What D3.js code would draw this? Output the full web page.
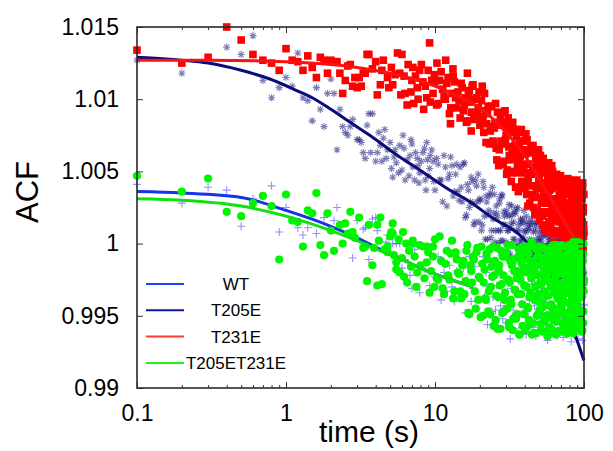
<!DOCTYPE html>
<html>
<head>
<meta charset="utf-8">
<script src="https://cdn.jsdelivr.net/npm/d3@7"></script>
<style>
  body { margin: 0; background: #fff; }
  svg { display: block; font-family: "Liberation Sans", Arial, Helvetica, sans-serif; }
</style>
</head>
<body>
<div id="chart"></div>
<script>
// axis ticks
const xMajor = [0.1, 1, 10, 100];
const xTickLabels = ['0.1', '1', '10', '100'];
const xMinor = [0.2, 0.3, 0.4, 0.5, 0.6, 0.7, 0.8, 0.9, 2, 3, 4, 5, 6, 7, 8, 9, 20, 30, 40, 50, 60, 70, 80, 90];
const yTicks = [0.99, 0.995, 1, 1.005, 1.01, 1.015];
const yTickLabels = ['0.99', '0.995', '1', '1.005', '1.01', '1.015'];
const legendNames = ['WT', 'T205E', 'T231E', 'T205ET231E'];

// sparse early points [time, ACF]
const wtEarly = [[0.1,1.0041],[0.2,1.0028],[0.3,1.0039],[0.4,1.0037],[0.5,1.0012],[0.6,1.0031],[0.8,1.0040],[0.9,1.0008],[1.0,1.0025],[1.2,1.0011],[1.3,1.0006],[1.4,1.0011],[1.6,1.0007],[1.8,1.0018],[2.1,1.0016],[2.2,1.0025],[2.8,0.9990],[3.0,1.0016],[3.3,1.0010],[3.4,1.0011],[3.6,0.9989],[3.8,1.0017],[4.0,1.0018],[4.1,1.0009],[4.7,1.0001],[4.8,1.0006],[5.2,1.0000],[5.5,1.0000],[5.8,1.0000],[6.0,0.9983],[6.3,0.9989],[6.8,0.9978],[7.0,0.9969],[7.3,0.9996],[7.9,0.9966],[8.6,0.9982],[9.2,0.9971]];

const t205eEarly = [[0.1,1.0127],[0.2,1.0118],[0.4,1.0136],[0.5,1.0131],[0.6,1.0144],[0.7,1.0113],[0.8,1.0101],[0.9,1.0108],[1.0,1.0115],[1.1,1.0109],[1.2,1.0132],[1.3,1.0101],[1.4,1.0099],[1.5,1.0085],[1.6,1.0108],[1.7,1.0093],[1.8,1.0081],[1.9,1.0104],[2.0,1.0114],[2.1,1.0104],[2.2,1.0065],[2.3,1.0093],[2.4,1.0081],[2.5,1.0077],[2.6,1.0075],[2.7,1.0081],[2.8,1.0086],[3.0,1.0072],[3.1,1.0072],[3.2,1.0070],[3.3,1.0063],[3.4,1.0059],[3.5,1.0082],[3.6,1.0090],[3.7,1.0063],[3.8,1.0090],[4.0,1.0057],[4.1,1.0063],[4.2,1.0077],[4.3,1.0068],[4.4,1.0057],[4.5,1.0073],[4.6,1.0079],[4.7,1.0059],[4.8,1.0065],[5.0,1.0070],[5.1,1.0052],[5.2,1.0046],[5.3,1.0060],[5.4,1.0065],[5.5,1.0056],[5.7,1.0049],[5.8,1.0068],[6.0,1.0051],[6.1,1.0075],[6.2,1.0066],[6.3,1.0044],[6.5,1.0058],[6.7,1.0047],[6.8,1.0061],[6.9,1.0072],[7.0,1.0069],[7.1,1.0053],[7.3,1.0044],[7.4,1.0063],[7.6,1.0059],[7.7,1.0054],[7.8,1.0042],[7.9,1.0049],[8.1,1.0057],[8.3,1.0063],[8.5,1.0066],[8.6,1.0044],[8.7,1.0037],[8.8,1.0070],[8.9,1.0058],[9.0,1.0047],[9.2,1.0052],[9.3,1.0061],[9.5,1.0065],[9.7,1.0057],[9.8,1.0043]];

const t231eEarly = [[0.1,1.0134],[0.2,1.0125],[0.3,1.0129],[0.4,1.0150],[0.5,1.0141],[0.6,1.0131],[0.7,1.0127],[0.8,1.0125],[0.9,1.0120],[1.0,1.0135],[1.1,1.0127],[1.2,1.0126],[1.3,1.0120],[1.4,1.0130],[1.5,1.0122],[1.6,1.0115],[1.7,1.0129],[1.8,1.0127],[1.9,1.0118],[2.0,1.0127],[2.1,1.0126],[2.2,1.0126],[2.3,1.0118],[2.4,1.0104],[2.5,1.0113],[2.6,1.0123],[2.7,1.0124],[2.8,1.0109],[2.9,1.0115],[3.0,1.0108],[3.1,1.0115],[3.2,1.0109],[3.3,1.0118],[3.4,1.0118],[3.5,1.0131],[3.6,1.0131],[3.8,1.0121],[4.0,1.0126],[4.1,1.0103],[4.3,1.0110],[4.4,1.0120],[4.5,1.0127],[4.8,1.0115],[4.9,1.0108],[5.1,1.0122],[5.2,1.0110],[5.4,1.0117],[5.6,1.0132],[5.8,1.0118],[5.9,1.0103],[6.0,1.0131],[6.2,1.0116],[6.3,1.0104],[6.5,1.0096],[6.6,1.0124],[6.9,1.0105],[7.0,1.0113],[7.1,1.0122],[7.2,1.0097],[7.4,1.0116],[7.6,1.0108],[7.7,1.0100],[7.9,1.0120],[8.1,1.0124],[8.3,1.0112],[8.4,1.0093],[8.6,1.0109],[8.8,1.0101],[9.0,1.0120],[9.2,1.0139],[9.3,1.0098],[9.5,1.0113],[9.7,1.0104],[9.9,1.0117],[10.3,1.0125],[11.8,1.0127],[12.7,1.0083],[13.2,1.0121],[16.5,1.0118],[17.5,1.0078]];

const bothEarly = [[0.1,1.0047],[0.2,1.0036],[0.3,1.0045],[0.4,1.0022],[0.5,1.0019],[0.6,1.0028],[0.7,1.0033],[0.8,1.0026],[0.9,0.9989],[1.0,1.0034],[1.1,1.0016],[1.2,1.0015],[1.3,0.9998],[1.4,1.0023],[1.5,1.0021],[1.6,1.0035],[1.7,0.9999],[1.8,0.9992],[1.9,1.0021],[2.0,1.0009],[2.1,0.9995],[2.3,1.0013],[2.4,1.0000],[2.5,1.0014],[2.6,1.0007],[2.7,1.0022],[2.8,1.0008],[2.9,1.0004],[3.1,1.0018],[3.3,0.9997],[3.4,0.9998],[3.5,0.9974],[3.6,1.0013],[3.8,0.9985],[3.9,0.9997],[4.1,1.0013],[4.1,0.9971],[4.2,1.0002],[4.3,1.0018],[4.4,0.9972],[4.6,0.9996],[4.8,0.9994],[4.8,0.9998],[5.0,1.0005],[5.1,1.0008],[5.2,1.0014],[5.2,1.0007],[5.3,0.9992],[5.5,0.9987],[5.5,0.9982],[5.7,1.0003],[5.8,0.9980],[6.0,0.9990],[6.1,1.0008],[6.2,0.9977],[6.4,1.0000],[6.5,0.9973],[6.7,0.9995],[6.9,0.9984],[7.1,1.0002],[7.1,1.0000],[7.3,0.9991],[7.5,0.9970],[7.6,0.9980],[7.9,0.9999],[8.0,0.9985],[8.3,0.9998],[8.5,0.9976],[8.8,0.9998],[8.8,0.9987],[9.0,0.9994],[9.2,0.9966],[9.4,0.9981],[9.7,0.9998],[9.7,0.9991],[9.9,0.9970]];

// dense part A: one value per time for each series
const denseTimes = [10,10.5,11,11.5,12,12.5,13,13.5,14,14.5,15,15.5,16,16.5,17,17.5,18,18.5,19,19.5,
  20,20.5,21,21.5,22,22.5,23,23.5,24,24.5,25,25.5,26,26.5,27,27.5,28,28.5,29,29.5,
  30,30.5,31,31.5,32,32.5,33,33.5,34,34.5,35,35.5,36,36.5,37,37.5,38,38.5,39,39.5,
  40,40.5,41,41.5,42,42.5,43,43.5,44,44.5,45,45.5,46,46.5,47,47.5,48,48.5,49,49.5,
  50,50.5,51,51.5,52,52.5,53,53.5,54,54.5,55,55.5,56,56.5,57,57.5,58,58.5,59,59.5,
  60,60.5,61,61.5,62,62.5,63,63.5,64,64.5,65,65.5,66,66.5,67,67.5,68,68.5,69,69.5,
  70,70.5,71,71.5,72,72.5,73,73.5,74,74.5,75,75.5,76,76.5,77,77.5,78,78.5,79,79.5,
  80,80.5,81,81.5,82,82.5,83,83.5,84,84.5,85,85.5,86,86.5,87,87.5,88,88.5,89,89.5,
  90,90.5,91,91.5,92,92.5,93,93.5,94,94.5,95,95.5,96,96.5,97,97.5,98,98.5,99,99.5,100];

const wtDense = [0.9977,0.9991,0.9961,0.9980,0.9967,0.9985,0.9970,0.9960,0.9981,0.9990,
  0.9964,0.9983,0.9952,0.9974,0.9991,0.9960,0.9969,0.9984,0.9955,0.9977,
  0.9976,0.9950,0.9991,0.9963,0.9980,0.9944,0.9970,0.9984,0.9953,0.9963,
  0.9987,0.9954,0.9971,0.9943,0.9982,0.9957,0.9992,0.9948,0.9976,0.9965,
  0.9945,0.9975,0.9960,0.9989,0.9934,0.9969,0.9981,0.9954,0.9986,0.9948,
  0.9966,0.9990,0.9939,0.9974,0.9951,0.9983,0.9958,0.9942,0.9978,0.9993,
  0.9954,0.9980,0.9937,0.9968,0.9992,0.9949,0.9961,0.9984,0.9943,0.9974,
  0.9972,0.9942,0.9990,0.9957,0.9978,0.9936,0.9966,0.9984,0.9948,0.9960,
  0.9987,0.9951,0.9969,0.9939,0.9981,0.9954,0.9992,0.9945,0.9975,0.9963,
  0.9944,0.9974,0.9959,0.9988,0.9933,0.9968,0.9980,0.9953,0.9985,0.9947,
  0.9965,0.9989,0.9938,0.9973,0.9950,0.9982,0.9957,0.9941,0.9977,0.9992,
  0.9953,0.9979,0.9936,0.9967,0.9991,0.9948,0.9960,0.9983,0.9942,0.9973,
  0.9971,0.9941,0.9989,0.9956,0.9977,0.9935,0.9965,0.9983,0.9947,0.9959,
  0.9985,0.9949,0.9967,0.9937,0.9979,0.9952,0.9990,0.9943,0.9973,0.9961,
  0.9943,0.9973,0.9958,0.9987,0.9932,0.9967,0.9979,0.9952,0.9984,0.9946,
  0.9964,0.9988,0.9937,0.9972,0.9949,0.9981,0.9956,0.9940,0.9976,0.9991,
  0.9951,0.9977,0.9934,0.9965,0.9989,0.9946,0.9958,0.9981,0.9940,0.9971,
  0.9969,0.9939,0.9987,0.9954,0.9975,0.9933,0.9963,0.9981,0.9945,0.9957,0.9958];

const t205eDense = [1.0037,1.0055,1.0044,1.0061,1.0026,1.0048,1.0054,1.0036,1.0055,1.0030,
  1.0039,1.0055,1.0018,1.0041,1.0025,1.0046,1.0028,1.0015,1.0040,1.0048,
  1.0031,1.0009,1.0043,1.0019,1.0033,1.0003,1.0023,1.0035,1.0009,1.0017,
  1.0034,1.0009,1.0021,1.0000,1.0028,1.0009,1.0034,1.0002,1.0022,1.0013,
  1.0001,1.0020,1.0009,1.0027,0.9992,1.0014,1.0020,1.0003,1.0022,0.9998,
  1.0009,1.0024,0.9991,1.0013,0.9998,1.0017,1.0002,0.9992,1.0014,1.0023,
  1.0009,0.9990,1.0019,0.9998,1.0012,0.9984,1.0003,1.0014,0.9990,0.9998,
  1.0014,0.9991,1.0002,0.9983,1.0009,0.9991,1.0015,0.9986,1.0004,0.9996,
  0.9985,1.0003,0.9993,1.0010,0.9978,0.9998,1.0005,0.9989,1.0007,0.9984,
  0.9995,1.0009,0.9979,0.9998,0.9985,1.0004,0.9989,0.9978,1.0000,1.0008,
  0.9995,0.9978,1.0005,0.9986,0.9998,0.9974,0.9991,1.0000,0.9979,0.9986,
  1.0002,0.9981,0.9991,0.9974,0.9998,0.9982,1.0003,0.9977,0.9994,0.9987,
  0.9977,0.9994,0.9985,1.0001,0.9970,0.9989,0.9996,0.9981,0.9999,0.9977,
  0.9986,0.9999,0.9970,0.9990,0.9977,0.9995,0.9981,0.9972,0.9993,1.0001,
  0.9988,0.9971,0.9998,0.9980,0.9992,0.9968,0.9985,0.9995,0.9974,0.9981,
  0.9996,0.9975,0.9985,0.9968,0.9992,0.9977,0.9998,0.9972,0.9989,0.9982,
  0.9971,0.9988,0.9979,0.9995,0.9965,0.9984,0.9991,0.9976,0.9994,0.9972,
  0.9982,0.9995,0.9966,0.9986,0.9973,0.9991,0.9977,0.9968,0.9989,0.9997,0.9979];

const t231eDense = [1.0112,1.0097,1.0119,1.0102,1.0111,1.0090,1.0104,1.0112,1.0094,1.0099,
  1.0111,1.0092,1.0101,1.0085,1.0106,1.0091,1.0110,1.0086,1.0101,1.0094,
  1.0082,1.0099,1.0088,1.0104,1.0070,1.0090,1.0095,1.0078,1.0095,1.0071,
  1.0080,1.0097,1.0058,1.0083,1.0065,1.0087,1.0069,1.0057,1.0082,1.0092,
  1.0075,1.0051,1.0087,1.0061,1.0077,1.0043,1.0065,1.0079,1.0050,1.0059,
  1.0079,1.0049,1.0063,1.0039,1.0071,1.0050,1.0079,1.0041,1.0065,1.0054,
  1.0038,1.0062,1.0049,1.0072,1.0026,1.0055,1.0064,1.0040,1.0067,1.0034,
  1.0049,1.0068,1.0025,1.0053,1.0033,1.0059,1.0038,1.0023,1.0054,1.0065,
  1.0047,1.0020,1.0061,1.0032,1.0050,1.0013,1.0039,1.0053,1.0022,1.0031,
  1.0055,1.0021,1.0037,1.0009,1.0047,1.0022,1.0056,1.0013,1.0040,1.0028,
  1.0011,1.0038,1.0024,1.0050,0.9999,1.0031,1.0042,1.0016,1.0045,1.0009,
  1.0025,1.0048,0.9998,1.0031,1.0008,1.0039,1.0015,0.9999,1.0033,1.0047,
  1.0026,0.9996,1.0044,1.0011,1.0032,0.9990,1.0020,1.0038,1.0002,1.0014,
  1.0040,1.0004,1.0022,0.9992,1.0034,1.0007,1.0045,0.9998,1.0028,1.0016,
  0.9997,1.0027,1.0012,1.0041,0.9986,1.0021,1.0033,1.0006,1.0038,1.0000,
  1.0017,1.0041,0.9990,1.0025,1.0002,1.0034,1.0009,0.9993,1.0029,1.0044,
  1.0022,0.9992,1.0040,1.0007,1.0028,0.9986,1.0016,1.0034,0.9998,1.0010,
  1.0037,1.0001,1.0019,0.9989,1.0031,1.0004,1.0042,0.9995,1.0025,1.0013,1.0008];

const bothDense = [1.0003,0.9975,0.9988,0.9965,0.9995,0.9975,1.0002,0.9967,0.9989,0.9979,
  0.9962,0.9988,0.9974,0.9999,0.9951,0.9981,0.9991,0.9967,0.9994,0.9961,
  0.9976,0.9998,0.9950,0.9982,0.9961,0.9989,0.9967,0.9951,0.9984,0.9998,
  0.9978,0.9947,0.9997,0.9963,0.9985,0.9941,0.9972,0.9991,0.9953,0.9966,
  0.9994,0.9955,0.9975,0.9942,0.9988,0.9958,0.9999,0.9948,0.9981,0.9968,
  0.9948,0.9981,0.9965,0.9996,0.9937,0.9975,0.9988,0.9958,0.9993,0.9951,
  0.9971,0.9998,0.9942,0.9980,0.9955,0.9989,0.9963,0.9945,0.9985,1.0001,
  0.9978,0.9945,0.9998,0.9961,0.9985,0.9938,0.9971,0.9991,0.9951,0.9965,
  0.9992,0.9953,0.9973,0.9940,0.9986,0.9956,0.9997,0.9946,0.9979,0.9966,
  0.9947,0.9980,0.9964,0.9995,0.9936,0.9974,0.9987,0.9957,0.9992,0.9950,
  0.9958,0.9986,0.9940,0.9973,0.9999,0.9953,0.9966,0.9991,0.9947,0.9980,
  0.9979,0.9946,0.9999,0.9962,0.9986,0.9939,0.9972,0.9992,0.9952,0.9966,
  0.9957,0.9985,0.9939,0.9972,0.9998,0.9952,0.9965,0.9990,0.9946,0.9979,
  0.9949,0.9982,0.9966,0.9997,0.9938,0.9976,0.9989,0.9959,0.9994,0.9952,
  0.9971,0.9998,0.9942,0.9980,0.9955,0.9989,0.9963,0.9945,0.9985,1.0001,
  0.9996,0.9957,0.9977,0.9944,0.9990,0.9960,1.0001,0.9950,0.9983,0.9970,
  0.9959,0.9987,0.9941,0.9974,1.0000,0.9954,0.9967,0.9992,0.9948,0.9981,
  0.9980,0.9947,1.0000,0.9963,0.9987,0.9940,0.9973,0.9993,0.9953,0.9967,0.9975];

// dense part B: the in-between times
const denseTimesB = [10.25,10.75,11.25,11.75,12.25,12.75,13.25,13.75,14.25,14.75,15.25,15.75,16.25,16.75,17.25,17.75,18.25,18.75,19.25,19.75,
  20.25,20.75,21.25,21.75,22.25,22.75,23.25,23.75,24.25,24.75,25.25,25.75,26.25,26.75,27.25,27.75,28.25,28.75,29.25,29.75,
  30.25,30.75,31.25,31.75,32.25,32.75,33.25,33.75,34.25,34.75,35.25,35.75,36.25,36.75,37.25,37.75,38.25,38.75,39.25,39.75,
  40.25,40.75,41.25,41.75,42.25,42.75,43.25,43.75,44.25,44.75,45.25,45.75,46.25,46.75,47.25,47.75,48.25,48.75,49.25,49.75,
  50.25,50.75,51.25,51.75,52.25,52.75,53.25,53.75,54.25,54.75,55.25,55.75,56.25,56.75,57.25,57.75,58.25,58.75,59.25,59.75,
  60.25,60.75,61.25,61.75,62.25,62.75,63.25,63.75,64.25,64.75,65.25,65.75,66.25,66.75,67.25,67.75,68.25,68.75,69.25,69.75,
  70.25,70.75,71.25,71.75,72.25,72.75,73.25,73.75,74.25,74.75,75.25,75.75,76.25,76.75,77.25,77.75,78.25,78.75,79.25,79.75,
  80.25,80.75,81.25,81.75,82.25,82.75,83.25,83.75,84.25,84.75,85.25,85.75,86.25,86.75,87.25,87.75,88.25,88.75,89.25,89.75,
  90.25,90.75,91.25,91.75,92.25,92.75,93.25,93.75,94.25,94.75,95.25,95.75,96.25,96.75,97.25,97.75,98.25,98.75,99.25,99.75];

const t205eDenseB = [1.0059,1.0044,1.0029,1.0053,1.0045,1.0060,1.0033,1.0048,1.0036,1.0053,
  1.0029,1.0056,1.0020,1.0037,1.0029,1.0043,1.0013,1.0044,1.0029,1.0015,
  1.0030,1.0013,1.0039,1.0003,1.0029,1.0020,1.0033,1.0004,1.0039,1.0021,
  1.0001,1.0026,1.0018,1.0009,1.0031,1.0002,1.0033,1.0013,1.0019,0.9994,
  1.0023,1.0009,0.9994,1.0019,1.0011,1.0026,0.9999,1.0015,1.0003,1.0021,
  0.9999,1.0025,0.9993,1.0009,1.0002,1.0015,0.9989,1.0017,1.0004,0.9994,
  1.0008,0.9993,1.0015,0.9984,1.0009,0.9999,1.0011,0.9987,1.0017,1.0002,
  0.9983,1.0008,0.9999,0.9991,1.0012,0.9985,1.0014,0.9996,1.0001,0.9978,
  1.0007,0.9993,0.9979,1.0002,0.9996,1.0009,0.9984,0.9999,0.9988,1.0006,
  0.9986,1.0010,0.9979,0.9995,0.9988,1.0000,0.9976,1.0003,0.9990,0.9980,
  0.9993,0.9980,1.0001,0.9973,0.9995,0.9987,0.9998,0.9976,1.0004,0.9991,
  0.9973,0.9995,0.9988,0.9981,1.0000,0.9976,1.0002,0.9986,0.9991,0.9971,
  0.9996,0.9983,0.9971,0.9993,0.9987,1.0000,0.9977,0.9991,0.9982,0.9998,
  0.9977,1.0000,0.9972,0.9987,0.9981,0.9993,0.9970,0.9995,0.9984,0.9975,
  0.9987,0.9974,0.9995,0.9967,0.9989,0.9981,0.9992,0.9970,0.9998,0.9985,
  0.9968,0.9990,0.9983,0.9976,0.9995,0.9971,0.9997,0.9981,0.9986,0.9966,
  0.9991,0.9978,0.9966,0.9988,0.9982,0.9995,0.9972,0.9986,0.9977,0.9993,
  0.9973,0.9996,0.9968,0.9983,0.9977,0.9989,0.9966,0.9991,0.9980,0.9971];

const t231eDenseB = [1.0096,1.0113,1.0107,1.0100,1.0115,1.0094,1.0116,1.0101,1.0105,1.0087,
  1.0108,1.0096,1.0084,1.0103,1.0098,1.0109,1.0088,1.0100,1.0091,1.0105,
  1.0086,1.0109,1.0077,1.0092,1.0083,1.0095,1.0069,1.0095,1.0081,1.0070,
  1.0084,1.0066,1.0091,1.0054,1.0082,1.0071,1.0084,1.0055,1.0091,1.0072,
  1.0048,1.0077,1.0067,1.0058,1.0082,1.0049,1.0084,1.0062,1.0068,1.0039,
  1.0074,1.0055,1.0036,1.0068,1.0058,1.0077,1.0043,1.0062,1.0049,1.0071,
  1.0043,1.0076,1.0034,1.0055,1.0045,1.0063,1.0028,1.0064,1.0048,1.0033,
  1.0052,1.0032,1.0063,1.0020,1.0052,1.0040,1.0056,1.0022,1.0064,1.0043,
  1.0017,1.0050,1.0039,1.0028,1.0057,1.0019,1.0059,1.0034,1.0042,1.0009,
  1.0049,1.0028,1.0008,1.0042,1.0032,1.0053,1.0015,1.0037,1.0022,1.0047,
  1.0017,1.0054,1.0007,1.0030,1.0020,1.0039,1.0001,1.0042,1.0024,1.0008,
  1.0029,1.0007,1.0041,0.9993,1.0030,1.0017,1.0035,0.9997,1.0044,1.0021,
  0.9991,1.0031,1.0019,1.0006,1.0040,0.9997,1.0044,1.0015,1.0025,0.9988,
  1.0034,1.0011,0.9989,1.0028,1.0018,1.0042,0.9999,1.0025,1.0008,1.0037,
  1.0003,1.0044,0.9994,1.0020,1.0009,1.0030,0.9989,1.0035,1.0015,0.9998,
  1.0022,0.9999,1.0035,0.9985,1.0025,1.0011,1.0031,0.9991,1.0041,1.0017,
  0.9987,1.0027,1.0015,1.0002,1.0036,0.9993,1.0040,1.0011,1.0021,0.9984,
  1.0031,1.0008,0.9986,1.0025,1.0015,1.0039,0.9996,1.0022,1.0005,1.0034];

const bothDenseB = [0.9976,1.0005,0.9969,0.9986,0.9978,0.9993,0.9962,0.9994,0.9980,0.9967,
  0.9985,0.9965,0.9995,0.9952,0.9985,0.9973,0.9989,0.9955,0.9997,0.9977,
  0.9949,0.9986,0.9973,0.9962,0.9993,0.9953,0.9996,0.9970,0.9977,0.9943,
  0.9988,0.9964,0.9941,0.9981,0.9971,0.9995,0.9952,0.9978,0.9961,0.9991,
  0.9955,0.9999,0.9945,0.9973,0.9961,0.9985,0.9940,0.9989,0.9968,0.9950,
  0.9976,0.9951,0.9991,0.9937,0.9980,0.9965,0.9986,0.9943,0.9998,0.9971,
  0.9940,0.9983,0.9970,0.9956,0.9993,0.9947,0.9998,0.9966,0.9976,0.9937,
  0.9988,0.9963,0.9938,0.9981,0.9970,0.9996,0.9950,0.9978,0.9960,0.9991,
  0.9954,0.9998,0.9944,0.9972,0.9960,0.9984,0.9939,0.9988,0.9967,0.9949,
  0.9975,0.9950,0.9990,0.9936,0.9979,0.9964,0.9985,0.9942,0.9997,0.9970,
  0.9940,0.9983,0.9970,0.9956,0.9993,0.9947,0.9998,0.9966,0.9976,0.9937,
  0.9989,0.9964,0.9939,0.9982,0.9971,0.9997,0.9951,0.9979,0.9961,0.9992,
  0.9955,0.9999,0.9945,0.9973,0.9961,0.9985,0.9940,0.9989,0.9968,0.9950,
  0.9977,0.9952,0.9992,0.9938,0.9981,0.9966,0.9987,0.9944,0.9999,0.9972,
  0.9941,0.9984,0.9971,0.9957,0.9994,0.9948,0.9999,0.9967,0.9977,0.9938,
  0.9990,0.9965,0.9940,0.9983,0.9972,0.9998,0.9952,0.9980,0.9962,0.9993,
  0.9957,1.0001,0.9947,0.9975,0.9963,0.9987,0.9942,0.9991,0.9970,0.9952,
  0.9978,0.9953,0.9993,0.9939,0.9982,0.9967,0.9988,0.9945,1.0000,0.9973];

// fitted curves [time, ACF]
const wtFit = [[0.1,1.0036],[0.2,1.0035],[0.5,1.0032],[1,1.0023],[2,1.0012],[3,1.0004],[4.3,0.9996],[5.8,0.9990],[8,0.9983],[12,0.9976],[18,0.9970]];
const t205eFit = [[0.1,1.0129],[0.2,1.0127],[0.3,1.0125],[0.5,1.0120],[0.78,1.0114],[1.18,1.0106],[1.5,1.0101],[2,1.0093],[2.7,1.0084],[3.65,1.0075],[5.8,1.0060],[7.9,1.0051],[12.6,1.0037],[16.5,1.0030],[25,1.0017],[37,1.0006],[43.5,0.9998],[50.6,0.9987],[59,0.9975],[69.3,0.9961],[76.5,0.9949],[86.8,0.9937],[100,0.9919]];
const t231eFit = [[0.1,1.0127],[0.3,1.0127],[1,1.0126],[3,1.0122],[5,1.0118],[10,1.0109],[15,1.0101],[20,1.0094],[30,1.0077],[40,1.0061],[50,1.0045],[60,1.0031],[70,1.0019],[80,1.0009],[90,1.0001],[100,0.9995]];
const bothFit = [[0.1,1.0031],[0.2,1.0030],[0.5,1.0026],[1,1.0019],[2,1.0009],[3,1.0002],[4.3,0.9995],[5.8,0.9990],[8,0.9983],[12,0.9976],[18,0.9970]];

const W = 613, H = 451;
const x = d3.scaleLog().domain([0.1, 100]).range([137, 584]);
const y = d3.scaleLinear().domain([0.99, 1.015]).range([388, 27]);

const svg = d3.select('#chart').append('svg')
    .attr('width', W)
    .attr('height', H);

svg.append('rect').attr('width', W).attr('height', H).attr('fill', '#fff');

function pair(times, vals) {
    return times.map((t, i) => [t, vals[i]]);
}

const series = [
    { name: legendNames[0], pts: wtEarly.concat(pair(denseTimes, wtDense)), fit: wtFit, marker: 'plus', line: '#1434e6', key: '#1a44ff' },
    { name: legendNames[1], pts: t205eEarly.concat(pair(denseTimes, t205eDense), pair(denseTimesB, t205eDenseB)), fit: t205eFit, marker: 'star', line: '#0a0a78', key: '#0a1a9a' },
    { name: legendNames[2], pts: t231eEarly.concat(pair(denseTimes, t231eDense), pair(denseTimesB, t231eDenseB)), fit: t231eFit, marker: 'square', line: '#ff1010', key: '#ff3b2b' },
    { name: legendNames[3], pts: bothEarly.concat(pair(denseTimes, bothDense), pair(denseTimesB, bothDenseB)), fit: bothFit, marker: 'circle', line: '#10e010', key: '#22ee22' }
];

const line = d3.line()
    .x(d => x(d[0]))
    .y(d => y(d[1]))
    .curve(d3.curveMonotoneX);

const plot = svg.append('g');

// points then fit for each series, in order
series.forEach(s => {
    const g = plot.append('g');
    if (s.marker === 'square') {
        g.selectAll('rect').data(s.pts).enter().append('rect')
            .attr('x', d => x(d[0]) - 3.8)
            .attr('y', d => y(d[1]) - 3.8)
            .attr('width', 7.6)
            .attr('height', 7.6)
            .attr('fill', '#ff0000');
    } else if (s.marker === 'circle') {
        g.selectAll('circle').data(s.pts).enter().append('circle')
            .attr('cx', d => x(d[0]))
            .attr('cy', d => y(d[1]))
            .attr('r', 4.1)
            .attr('fill', '#00f500');
    } else if (s.marker === 'plus') {
        g.selectAll('path').data(s.pts).enter().append('path')
            .attr('transform', d => `translate(${x(d[0])},${y(d[1])})`)
            .attr('d', 'M-4,0H4M0,-4V4')
            .attr('stroke', '#4a4aff')
            .attr('stroke-opacity', 0.6)
            .attr('stroke-width', 1.1)
            .attr('fill', 'none');
    } else {
        g.selectAll('path').data(s.pts).enter().append('path')
            .attr('transform', d => `translate(${x(d[0])},${y(d[1])})`)
            .attr('d', 'M-3.6,0H3.6M0,-3.6V3.6M-2.6,-2.6L2.6,2.6M-2.6,2.6L2.6,-2.6')
            .attr('stroke', '#10107a')
            .attr('stroke-opacity', 0.55)
            .attr('stroke-width', 1.1)
            .attr('fill', 'none');
    }
    plot.append('path')
        .datum(s.fit)
        .attr('d', line)
        .attr('fill', 'none')
        .attr('stroke', s.line)
        .attr('stroke-width', 3);
});

// axes with inward ticks
function styleAxis(g) {
    g.select('.domain').remove();
    g.selectAll('.tick line').attr('stroke', '#333').attr('stroke-width', 1);
    g.selectAll('.tick text').attr('fill', '#000').attr('font-size', 23)
        .attr('font-family', '"Liberation Sans", Arial, sans-serif');
}

svg.append('g').attr('transform', 'translate(0,388)')
    .call(d3.axisBottom(x).tickValues(xMajor).tickSize(-6).tickPadding(17).tickFormat((d, i) => xTickLabels[i]))
    .call(styleAxis);
svg.append('g').attr('transform', 'translate(0,388)')
    .call(d3.axisBottom(x).tickValues(xMinor).tickSize(-3).tickFormat(''))
    .call(styleAxis);
svg.append('g').attr('transform', 'translate(0,27)')
    .call(d3.axisTop(x).tickValues(xMajor).tickSize(-6).tickFormat(''))
    .call(styleAxis);
svg.append('g').attr('transform', 'translate(0,27)')
    .call(d3.axisTop(x).tickValues(xMinor).tickSize(-3).tickFormat(''))
    .call(styleAxis);
svg.append('g').attr('transform', 'translate(137,0)')
    .call(d3.axisLeft(y).tickValues(yTicks).tickSize(-6).tickPadding(18).tickFormat((d, i) => yTickLabels[i]))
    .call(styleAxis);
svg.append('g').attr('transform', 'translate(584,0)')
    .call(d3.axisRight(y).tickValues(yTicks).tickSize(-6).tickFormat(''))
    .call(styleAxis);

// frame
svg.append('rect')
    .attr('x', 137).attr('y', 27)
    .attr('width', 447).attr('height', 361)
    .attr('fill', 'none')
    .attr('stroke', '#2a2a2a')
    .attr('stroke-width', 1.6);

// axis titles
svg.append('text')
    .attr('x', 369).attr('y', 442)
    .attr('text-anchor', 'middle')
    .attr('font-size', 30)
    .text('time (s)');
svg.append('text')
    .attr('transform', 'translate(38,192) rotate(-90)')
    .attr('text-anchor', 'middle')
    .attr('font-size', 31)
    .text('ACF');

// legend
const legendY = [284, 310.3, 336.6, 363];
const legend = svg.append('g');
series.forEach((s, i) => {
    legend.append('line')
        .attr('x1', 146).attr('x2', 184)
        .attr('y1', legendY[i]).attr('y2', legendY[i])
        .attr('stroke', s.key)
        .attr('stroke-width', 2);
    legend.append('text')
        .attr('x', 236).attr('y', legendY[i] + 6)
        .attr('text-anchor', 'middle')
        .attr('font-size', 17)
        .text(s.name);
});
</script>
</body>
</html>
